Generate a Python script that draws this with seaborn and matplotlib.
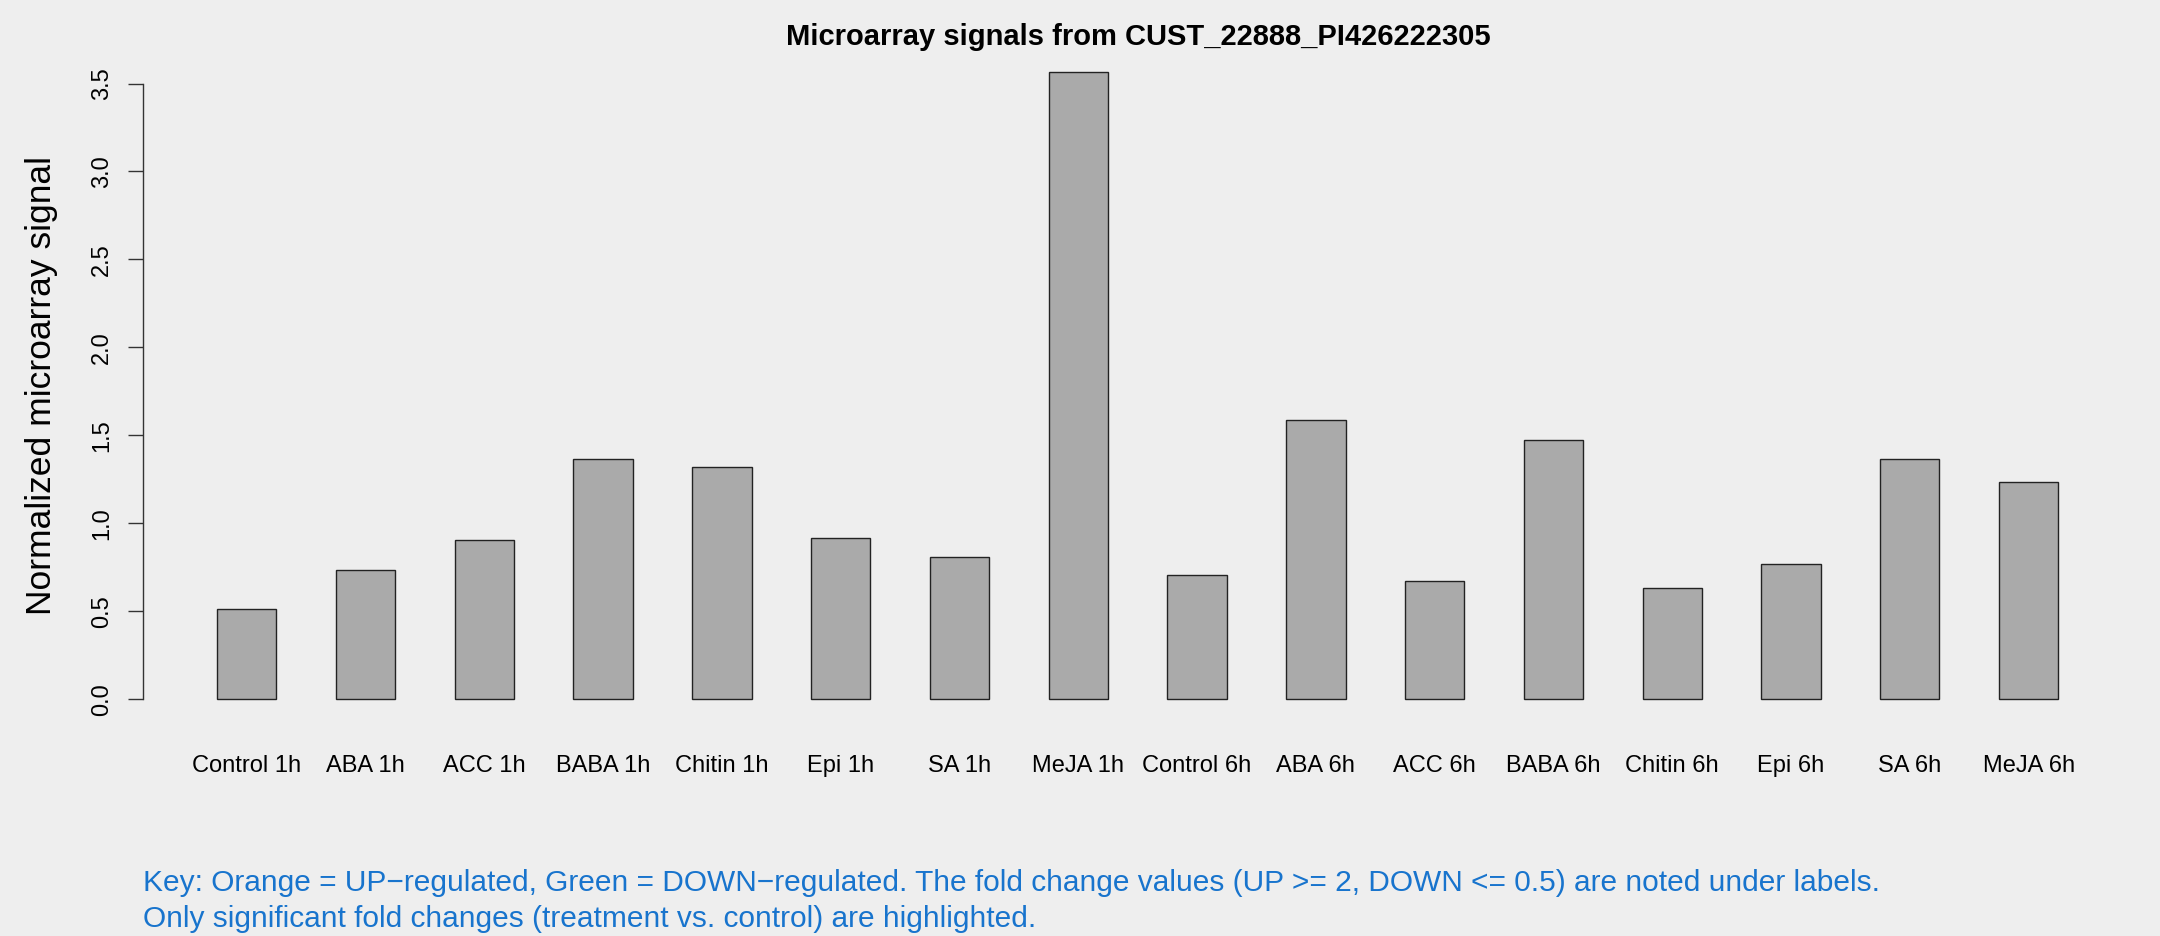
import numpy as np
import pandas as pd
import matplotlib
matplotlib.use("Agg")
import matplotlib.pyplot as plt
import seaborn as sns

# values
conditions = ['Control 1h', 'ABA 1h', 'ACC 1h', 'BABA 1h', 'Chitin 1h', 'Epi 1h', 'SA 1h', 'MeJA 1h',
              'Control 6h', 'ABA 6h', 'ACC 6h', 'BABA 6h', 'Chitin 6h', 'Epi 6h', 'SA 6h', 'MeJA 6h']
signal = [0.515, 0.733, 0.907, 1.368, 1.318, 0.916, 0.807, 3.566,
          0.707, 1.590, 0.673, 1.473, 0.635, 0.770, 1.365, 1.233]
y_ticks = [0.0, 0.5, 1.0, 1.5, 2.0, 2.5, 3.0, 3.5]

probe_id = "CUST_22888_PI426222305"
key_lines = [
    "Key: Orange = UP\u2212regulated, Green = DOWN\u2212regulated. The fold change values (UP >= 2, DOWN <= 0.5) are noted under labels.",
    "Only significant fold changes (treatment vs. control) are highlighted.",
]

df = pd.DataFrame({'condition': conditions, 'signal': signal})

bg = '#EEEEEE'
sns.set_style("white", {'axes.facecolor': bg, 'figure.facecolor': bg})
plt.rcParams['font.family'] = ['Liberation Sans', 'DejaVu Sans']
plt.rcParams['text.color'] = 'black'
plt.rcParams['axes.labelcolor'] = 'black'
plt.rcParams['xtick.color'] = 'black'
plt.rcParams['ytick.color'] = 'black'

fig = plt.figure(figsize=(21.6, 9.36), dpi=100)
fig.patch.set_facecolor(bg)
ax = fig.add_axes([0.0664, 0.226, 0.9206, 0.724])
ax.set_facecolor(bg)

sns.barplot(data=df, x='condition', y='signal', color='#AAAAAA', saturation=1,
            width=0.5, edgecolor='#222222', linewidth=1.0, ax=ax)

ax.set_xlim(-0.87, 15.87)
ax.set_ylim(-0.04 * max(signal), 1.04 * max(signal))

for s in ['top', 'right', 'bottom']:
    ax.spines[s].set_visible(False)
ax.spines['left'].set_bounds(y_ticks[0], y_ticks[-1])
ax.spines['left'].set_color('#333333')
ax.spines['left'].set_linewidth(1.0)

ax.set_yticks(y_ticks)
ax.set_yticklabels([f"{t:.1f}" for t in y_ticks], rotation=90, va='center', fontsize=17)
ax.tick_params(axis='y', length=11, width=1.0, color='#333333', pad=11, left=True)
ax.tick_params(axis='x', length=0, pad=22, labelsize=17)

ax.set_xlabel('')
ax.set_ylabel('Normalized microarray signal', fontsize=25.5, labelpad=24)

fig.text(0.527, 1 - 45 / 936, f"Microarray signals from {probe_id}",
         ha='center', va='baseline', fontsize=21, fontweight='bold')

fig.text(0.0664, 1 - 883 / 936, key_lines[0], ha='left', va='center', fontsize=21.5, color='#1874CD')
fig.text(0.0664, 1 - 919 / 936, key_lines[1], ha='left', va='center', fontsize=21.5, color='#1874CD')

fig.savefig('out.png', dpi=100, facecolor=bg)
